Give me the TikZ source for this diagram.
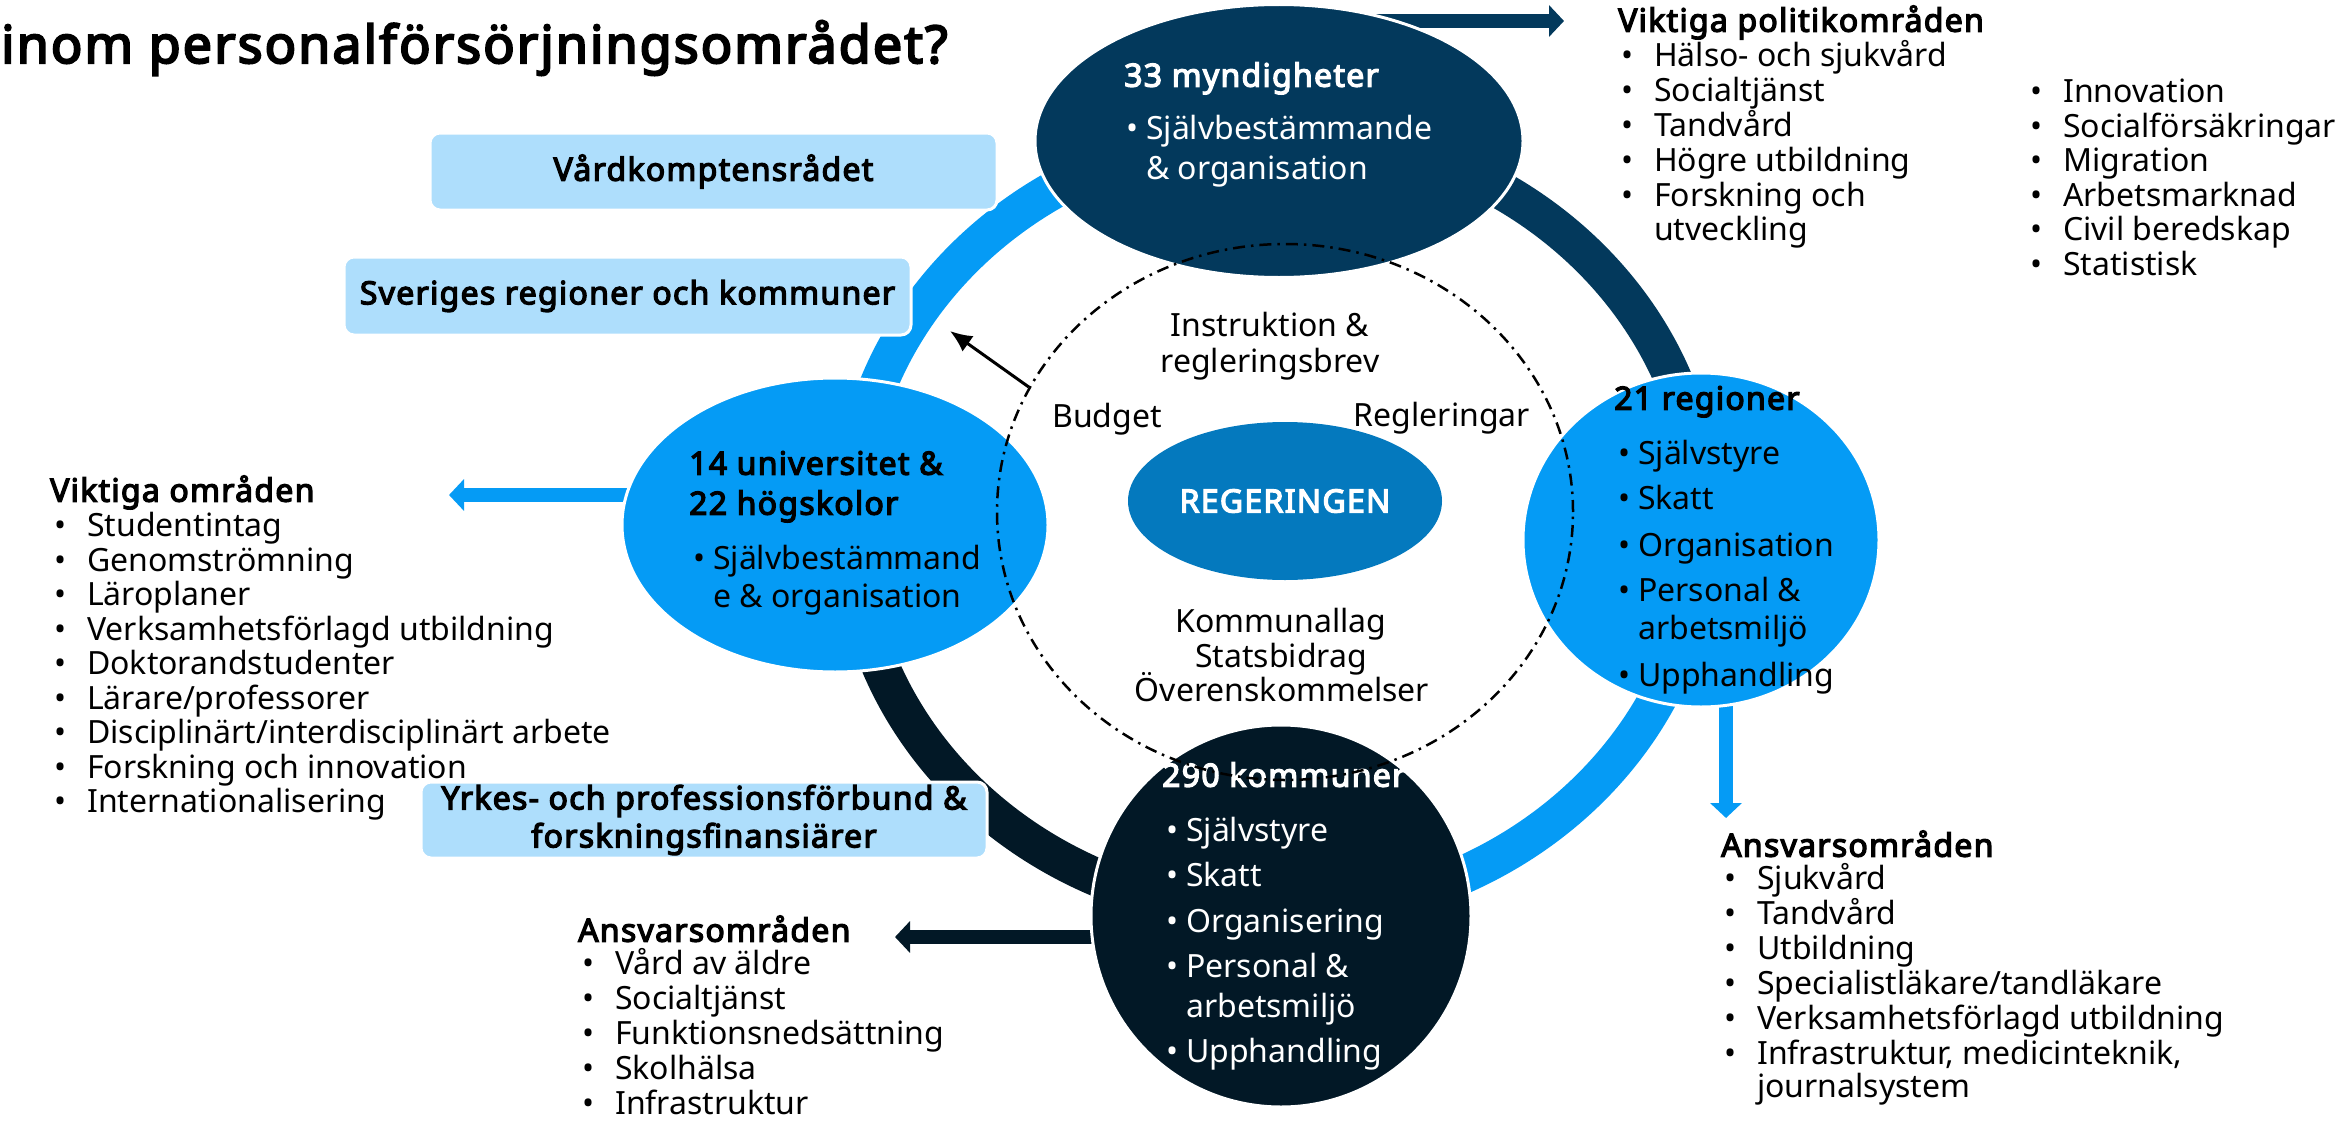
\documentclass[tikz,border=0pt]{standalone}
\usepackage{fontspec}
\setmainfont{Noto Sans}[BoldFont={Noto Sans}, BoldFeatures={FakeBold=4, LetterSpace=4}]
\usetikzlibrary{shapes.geometric,arrows.meta}
\pgfdeclarelayer{bg}
\pgfsetlayers{bg,main}
\definecolor{lblue}{RGB}{5,155,245}
\definecolor{navy}{RGB}{3,57,92}
\definecolor{nblack}{RGB}{2,24,38}
\definecolor{regblue}{RGB}{4,121,190}
\definecolor{boxblue}{RGB}{174,222,252}
\newcommand\myfs[1]{\fontsize{#1pt}{#1pt}\selectfont}
\newcommand\mybul[1]{\makebox[#1pt][l]{•}}
\begin{document}
\begin{tikzpicture}[x=1pt,y=-1pt,
  blob/.style={ellipse, inner sep=0pt, draw=white, line width=3pt},
  lbl/.style={inner sep=0pt, anchor=mid west, yshift=-7pt, font=\myfs{32}},
  hd/.style={inner sep=0pt, anchor=mid west, yshift=-7pt, font=\myfs{32}\bfseries},
  li/.style={inner sep=0pt, anchor=mid west, yshift=-7pt, font=\myfs{32}},
  ctr/.style={inner sep=0pt, anchor=mid, yshift=-7pt, font=\myfs{32}},
  infobox/.style={rectangle, rounded corners=10pt, fill=boxblue, draw=white, line width=3pt, font=\fontsize{32pt}{38pt}\selectfont\bfseries, align=center, inner sep=0pt},
  blk/.style={line width=14pt, -{Triangle[length=15pt,width=31pt]}},
]
\useasboundingbox (0,0) rectangle (2343,1124);

% title
\node[anchor=base west, inner sep=0pt, font=\myfs{52}\bfseries] (title) at (1,63) {inom personalförsörjningsområdet?};

% big nodes
\node[blob, fill=navy, minimum width=488pt, minimum height=273pt] (myn) at (1279,141) {};
\node[blob, fill=lblue, minimum width=426pt, minimum height=294pt] (uni) at (835,525) {};
\node[blob, fill=lblue, minimum width=356pt, minimum height=334pt] (reg) at (1701,540) {};
\node[blob, fill=nblack, minimum width=380pt, minimum height=382pt] (kom) at (1281,916) {};
\node[ellipse, fill=regblue, inner sep=0pt, minimum width=314pt, minimum height=158pt, font=\myfs{32}\bfseries, text=white] (rg) at (1285,501) {REGERINGEN};

% boxes
\node[infobox, minimum width=567pt, minimum height=77pt] (vard) at (713.5,171.5) {Vårdkomptensrådet};
\node[infobox, minimum width=567pt, minimum height=78pt] (svk) at (627.5,296) {Sveriges regioner och kommuner};
\node[infobox, minimum width=566pt, minimum height=76pt] (yrk) at (704,820) {Yrkes- och professionsförbund \&\\forskningsfinansiärer};

% text in myndigheter
\node[hd, text=white] (mynh) at (1124,77) {33 myndigheter};
\node[lbl, text=white] (myn1) at (1126,130) {\mybul{20}Självbestämmande};
\node[lbl, text=white] (myn2) at (1146,170) {\& organisation};

% text in universitet
\node[hd] (unih1) at (689,465) {14 universitet \&};
\node[hd] (unih2) at (689,505) {22 högskolor};
\node[lbl] (uni1) at (693,560) {\mybul{20}Självbestämmand};
\node[lbl] (uni2) at (713,598) {e \& organisation};

% text in regioner
\node[hd] (regh) at (1614,400) {21 regioner};
\node[lbl] (reg1) at (1618,455) {\mybul{20}Självstyre};
\node[lbl] (reg2) at (1618,500) {\mybul{20}Skatt};
\node[lbl] (reg3) at (1618,547) {\mybul{20}Organisation};
\node[lbl] (reg4) at (1618,592) {\mybul{20}Personal \&};
\node[lbl] (reg5) at (1638,630) {arbetsmiljö};
\node[lbl] (reg6) at (1618,677) {\mybul{20}Upphandling};

% text in kommuner
\node[hd, text=white] (komh) at (1162,777) {290 kommuner};
\node[lbl, text=white] (kom1) at (1166,832) {\mybul{20}Självstyre};
\node[lbl, text=white] (kom2) at (1166,877) {\mybul{20}Skatt};
\node[lbl, text=white] (kom3) at (1166,923) {\mybul{20}Organisering};
\node[lbl, text=white] (kom4) at (1166,968) {\mybul{20}Personal \&};
\node[lbl, text=white] (kom5) at (1186,1008) {arbetsmiljö};
\node[lbl, text=white] (kom6) at (1166,1053) {\mybul{20}Upphandling};

% centre labels
\node[ctr] (c1) at (1270,327) {Instruktion \&};
\node[ctr] (c2) at (1270,363) {regleringsbrev};
\node[ctr] (c3) at (1107,418) {Budget};
\node[ctr] (c4) at (1442,417) {Regleringar};
\node[ctr] (c5) at (1281,623) {Kommunallag};
\node[ctr] (c6) at (1281,658) {Statsbidrag};
\node[ctr] (c7) at (1282,692) {Överenskommelser};

% dashed ellipse
\node[ellipse, draw=black, line width=2.5pt, dash pattern=on 12pt off 6pt on 2.5pt off 6pt, minimum width=576pt, minimum height=536pt, inner sep=0pt] (dsh) at (1285,512) {};
\coordinate (svtip) at (950,331);
\draw[line width=3pt, -{Latex[length=22pt,width=19pt]}] (dsh.154) -- (svtip);

% lists
\node[hd] (pol) at (1618,22) {Viktiga politikområden};
\foreach \t [count=\i from 0] in {Hälso- och sjukvård, Socialtjänst, Tandvård, Högre utbildning, Forskning och}
  \node[li] (pa\i) at (1621,57+35*\i) {\mybul{33}\t};
\node[li] (pa5) at (1654,231) {utveckling};
\foreach \t [count=\i from 0] in {Innovation, Socialförsäkringar, Migration, Arbetsmarknad, Civil beredskap, Statistisk}
  \node[li] (pb\i) at (2030,93+34.5*\i) {\mybul{33}\t};

\node[hd] (vo) at (50,492) {Viktiga områden};
\foreach \t [count=\i from 0] in {Studentintag, Genomströmning, Läroplaner, Verksamhetsförlagd utbildning, Doktorandstudenter, Lärare/professorer, Disciplinärt/interdisciplinärt arbete, Forskning och innovation, Internationalisering}
  \node[li] (vo\i) at (54,527+34.5*\i) {\mybul{33}\t};

\node[hd] (ar) at (1721,847) {Ansvarsområden};
\foreach \t [count=\i from 0] in {Sjukvård, Tandvård, Utbildning, Specialistläkare/tandläkare, Verksamhetsförlagd utbildning, {Infrastruktur, medicinteknik,}}
  \node[li] (ar\i) at (1724,880+35*\i) {\mybul{33}\t};
\node[li] (ar6) at (1757,1088) {journalsystem};

\node[hd] (ak) at (578,932) {Ansvarsområden};
\foreach \t [count=\i from 0] in {Vård av äldre, Socialtjänst, Funktionsnedsättning, Skolhälsa, Infrastruktur}
  \node[li] (ak\i) at (582,965+35*\i) {\mybul{33}\t};

% background: ring and block arrows
\begin{pgfonlayer}{bg}
\coordinate (rc) at (1277,523);
\draw[lblue, line width=38pt] ([shift={(180:426 and 391)}]rc) arc[start angle=180, end angle=270, x radius=426, y radius=391];
\draw[navy, line width=38pt] ([shift={(270:426 and 391)}]rc) arc[start angle=270, end angle=360, x radius=426, y radius=391];
\draw[lblue, line width=38pt] ([shift={(0:426 and 391)}]rc) arc[start angle=0, end angle=90, x radius=426, y radius=391];
\draw[nblack, line width=38pt] ([shift={(90:426 and 391)}]rc) arc[start angle=90, end angle=180, x radius=426, y radius=391];
\coordinate (t1) at (1564,21);
\draw[blk, navy] (myn.center |- t1) -- (t1);
\coordinate (t2) at (449,495);
\draw[blk, lblue] (uni.center |- t2) -- (t2);
\coordinate (t3) at (895,937);
\draw[blk, nblack] (kom.center |- t3) -- (t3);
\coordinate (t4) at (1726,818);
\draw[blk, lblue] (reg.center -| t4) -- (t4);
\end{pgfonlayer}
\end{tikzpicture}
\end{document}
